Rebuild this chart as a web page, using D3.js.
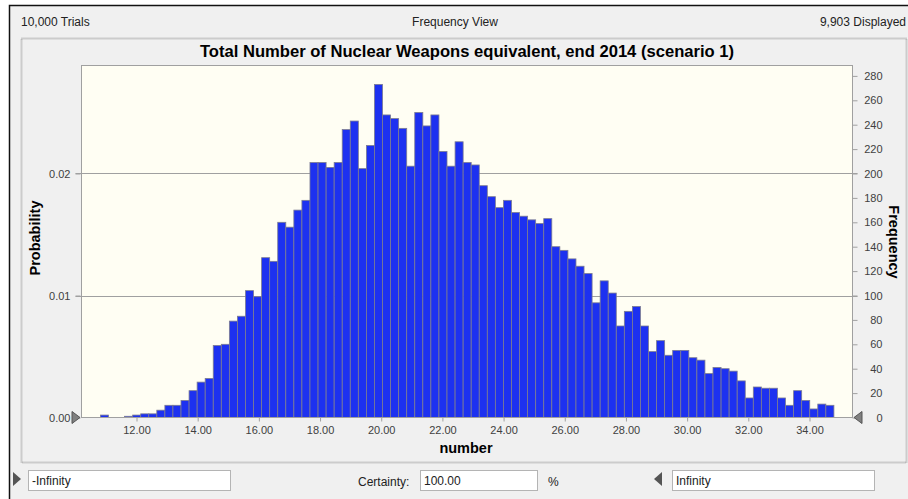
<!DOCTYPE html>
<html>
<head>
<meta charset="utf-8">
<script src="https://cdn.jsdelivr.net/npm/d3@7"></script>
<style>
  body { margin: 0; background: #fff; }
  text { font-family: "Liberation Sans", Arial, sans-serif; }
</style>
</head>
<body>
<script>
// histogram of 10,000 trials, 91 bins
const binStart = 10.82;
const binWidth = 0.2635;
const freq = [2, 0, 0, 1, 2, 3, 3, 6, 10, 10, 14, 22, 29, 32, 59, 60, 79, 83, 104, 99, 131, 128,
  160, 156, 170, 178, 209, 209, 205, 209, 236, 243, 204, 223, 273, 248, 245, 237, 206, 250,
  239, 248, 218, 206, 226, 209, 207, 190, 181, 172,
  178, 168, 165, 162, 159, 163, 140, 137, 130, 124, 118, 94, 112, 102, 75, 87, 91, 75, 54,
  63, 51, 55, 55, 49, 47, 36, 41, 40, 38, 30, 16, 25, 24, 24, 16, 10, 22, 14, 7, 11, 10];
const xTicks = [12, 14, 16, 18, 20, 22, 24, 26, 28, 30, 32, 34];
const probTicks = [0, 0.01, 0.02];
const freqTicks = [0, 20, 40, 60, 80, 100, 120, 140, 160, 180, 200, 220, 240, 260, 280];
const trials = 10000;

const W = 908, H = 499;
const plot = {left: 81.5, right: 852.5, top: 65.5, bottom: 417.5};

const svg = d3.select("body").append("svg")
  .attr("width", W).attr("height", H);

// window frame
svg.append("rect").attr("x", 9).attr("y", 5).attr("width", W).attr("height", H)
  .attr("fill", "#f0f0f0");
svg.append("path").attr("d", `M9.5,${H} V5.5 H${W}`)
  .attr("fill", "none").attr("stroke", "#111").attr("stroke-width", 1.5);

// header line
const header = svg.append("g").attr("font-size", 12).attr("fill", "#222");
header.append("text").attr("x", 21).attr("y", 26).text("10,000 Trials");
header.append("text").attr("x", 455).attr("y", 26).attr("text-anchor", "middle").text("Frequency View");
header.append("text").attr("x", 906).attr("y", 26).attr("text-anchor", "end").text("9,903 Displayed");

// chart panel (dotted groove)
svg.append("rect").attr("x", 21.5).attr("y", 38.5).attr("width", 885).attr("height", 424)
  .attr("fill", "#f0f0f0").attr("stroke", "#a8a8a8").attr("stroke-width", 2)
  .attr("stroke-dasharray", "1,1");

svg.append("text").attr("x", 467).attr("y", 56.5).attr("text-anchor", "middle")
  .attr("font-size", 16.6).attr("font-weight", "bold").attr("fill", "#000")
  .text("Total Number of Nuclear Weapons equivalent, end 2014 (scenario 1)");

// scales
const x = d3.scaleLinear().domain([10.202, 35.406]).range([plot.left, plot.right]);
const yMax = (plot.bottom - plot.top) / 1.22;
const y = d3.scaleLinear().domain([0, yMax]).range([plot.bottom, plot.top]);
const yProb = d3.scaleLinear().domain([0, yMax / trials]).range([plot.bottom, plot.top]);

svg.append("rect").attr("x", plot.left).attr("y", plot.top)
  .attr("width", plot.right - plot.left).attr("height", plot.bottom - plot.top)
  .attr("fill", "#fffef3");

// gridlines at the probability ticks
svg.append("g").selectAll("line").data(probTicks.filter(d => d > 0)).join("line")
  .attr("x1", plot.left - 6).attr("x2", plot.right + 5)
  .attr("y1", d => Math.round(yProb(d)) + 0.5).attr("y2", d => Math.round(yProb(d)) + 0.5)
  .attr("stroke", "#a0a0a0");

// bars
svg.append("g").selectAll("rect")
  .data(freq.map((f, i) => ({f: f, x0: binStart + i * binWidth})).filter(d => d.f > 0))
  .join("rect")
  .attr("x", d => x(d.x0))
  .attr("y", d => y(d.f))
  .attr("width", d => x(d.x0 + binWidth) - x(d.x0))
  .attr("height", d => y(0) - y(d.f))
  .attr("fill", "#1d31f0")
  .attr("stroke", "#7c7c90")
  .attr("stroke-width", 0.8);

svg.append("rect").attr("x", plot.left).attr("y", plot.top)
  .attr("width", plot.right - plot.left).attr("height", plot.bottom - plot.top)
  .attr("fill", "none").attr("stroke", "#a0a0a0");

// axes
function styleAxis(g) {
  g.select(".domain").remove();
  g.selectAll(".tick line").attr("stroke", "#a0a0a0");
  g.selectAll(".tick text").attr("fill", "#404040")
    .attr("font-family", "'Liberation Sans', Arial, sans-serif").attr("font-size", 11);
}

svg.append("g").attr("transform", `translate(0,${plot.bottom})`)
  .call(d3.axisBottom(x).tickValues(xTicks).tickFormat(d3.format(".2f")).tickSize(4).tickPadding(5))
  .call(styleAxis);

svg.append("g").attr("transform", `translate(${plot.left - 1},0)`)
  .call(d3.axisLeft(yProb).tickValues(probTicks).tickFormat(d3.format(".2f")).tickSize(5).tickPadding(5))
  .call(styleAxis);

svg.append("g").attr("transform", `translate(${plot.right},0)`)
  .call(d3.axisRight(y).tickValues(freqTicks).tickSize(5).tickPadding(4))
  .call(styleAxis)
  .call(g => g.selectAll(".tick text").attr("text-anchor", "end").attr("x", 30));

// axis titles
svg.append("text").attr("transform", "translate(40,238) rotate(-90)")
  .attr("text-anchor", "middle").attr("font-size", 14.5).attr("font-weight", "bold")
  .text("Probability");
svg.append("text").attr("transform", "translate(889,242) rotate(90)")
  .attr("text-anchor", "middle").attr("font-size", 14.5).attr("font-weight", "bold")
  .text("Frequency");
svg.append("text").attr("x", 466).attr("y", 453).attr("text-anchor", "middle")
  .attr("font-size", 14.5).attr("font-weight", "bold").text("number");

// grab markers on the axis
svg.append("path").attr("d", `M72,${plot.bottom - 6} L80,${plot.bottom} L72,${plot.bottom + 6} Z`)
  .attr("fill", "#808080").attr("stroke", "#555");
svg.append("path").attr("d", `M862,${plot.bottom - 6} L854,${plot.bottom} L862,${plot.bottom + 6} Z`)
  .attr("fill", "#808080").attr("stroke", "#555");

// bottom controls
const ctl = svg.append("g").attr("font-size", 12).attr("fill", "#222");
function box(x0, x1, label) {
  ctl.append("rect").attr("x", x0 + 0.5).attr("y", 470.5).attr("width", x1 - x0).attr("height", 20)
    .attr("fill", "#fff").attr("stroke", "#b4b4b4");
  ctl.append("text").attr("x", x0 + 4).attr("y", 485).text(label);
}
ctl.append("path").attr("d", "M13,472 L21,479 L13,486 Z").attr("fill", "#555");
box(28, 230, "-Infinity");
ctl.append("text").attr("x", 358).attr("y", 486).text("Certainty:");
box(420, 537, "100.00");
ctl.append("text").attr("x", 548).attr("y", 486).text("%");
ctl.append("path").attr("d", "M662,472 L654,479 L662,486 Z").attr("fill", "#555");
box(672, 874, "Infinity");
</script>
</body>
</html>
